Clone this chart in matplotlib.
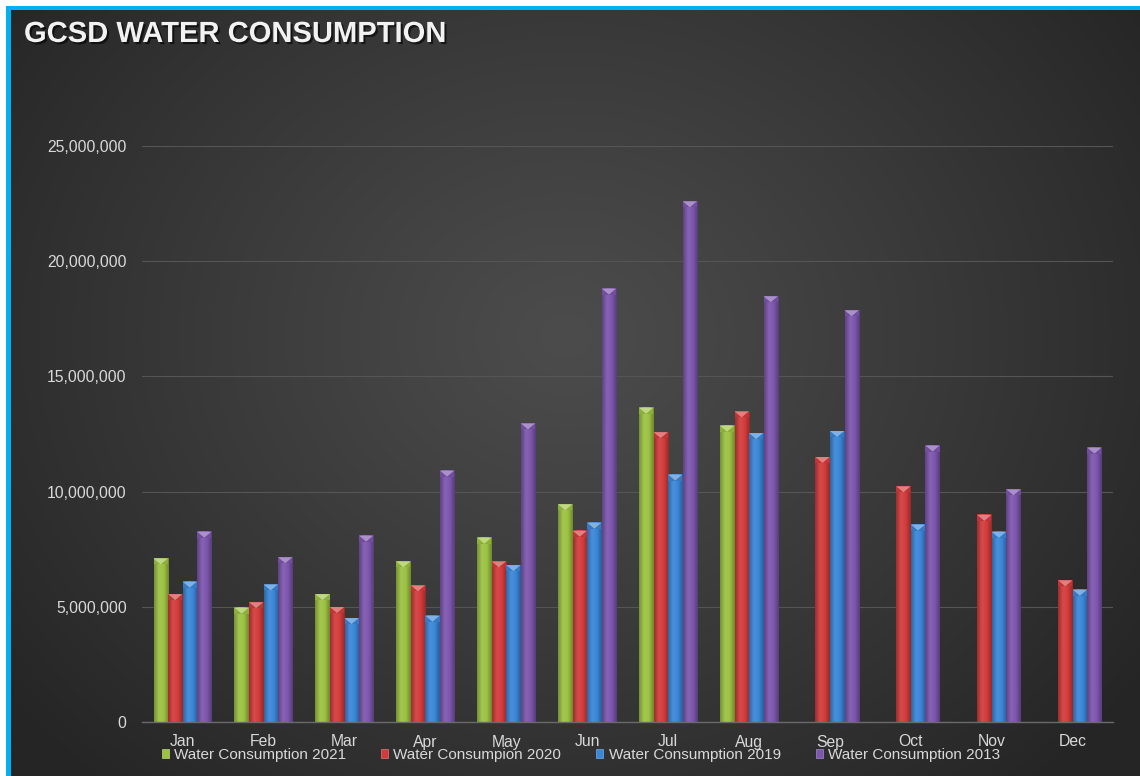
import numpy as np
import matplotlib
matplotlib.use("Agg")
import matplotlib.pyplot as plt
from matplotlib.patches import Rectangle, Polygon, Patch
from matplotlib.colors import to_rgb, LinearSegmentedColormap
import matplotlib.patheffects as pe

plt.rcParams['font.family'] = ['Liberation Sans', 'DejaVu Sans']

# ---------------- data ----------------
months = ['Jan', 'Feb', 'Mar', 'Apr', 'May', 'Jun', 'Jul', 'Aug', 'Sep', 'Oct', 'Nov', 'Dec']
wc_2021 = [7100000, 4960000, 5550000, 6970000, 8000000, 9450000, 13640000, 12860000,
           np.nan, np.nan, np.nan, np.nan]
wc_2020 = [5550000, 5200000, 4990000, 5930000, 6970000, 8300000, 12580000, 13480000,
           11500000, 10230000, 8990000, 6150000]
wc_2019 = [6090000, 5970000, 4510000, 4610000, 6810000, 8650000, 10740000, 12540000,
           12630000, 8570000, 8250000, 5740000]
wc_2013 = [8260000, 7150000, 8090000, 10910000, 12960000, 18810000, 22600000, 18480000,
           17870000, 12000000, 10100000, 11910000]
series_labels = ['Water Consumption 2021', 'Water Consumpion 2020',
                 'Water Consumption 2019', 'Water Consumption 2013']
series_values = [wc_2021, wc_2020, wc_2019, wc_2013]
series_colors = ['#9cc243', '#d33b3b', '#3a87d8', '#7d56ae']
y_ticks = [0, 5000000, 10000000, 15000000, 20000000, 25000000]
title = 'GCSD WATER CONSUMPTION'

W, H = 1140, 776
fig = plt.figure(figsize=(W / 100, H / 100), dpi=100)
fig.patch.set_facecolor('white')

# ---------------- background ----------------
bg = fig.add_axes([0, 0, 1, 1], zorder=-10)
bg.set_xlim(0, W)
bg.set_ylim(H, 0)
bg.axis('off')
yy, xx = np.mgrid[0:H, 0:W]
r = np.sqrt(((xx - 560) / 1.0) ** 2 + ((yy - 330) / 0.85) ** 2)
t = np.clip(r / 720.0, 0, 1) ** 1.1
inner = np.array([0x4c, 0x4c, 0x4c]) / 255
outer = np.array([0x25, 0x25, 0x25]) / 255
img = inner[None, None, :] * (1 - t[..., None]) + outer[None, None, :] * t[..., None]
bg.add_patch(Rectangle((6, 6), W, H, facecolor='#00b0f0', edgecolor='none', zorder=0))
bg.imshow(img, extent=(11, W, H, 10), zorder=1, aspect='auto')
bg.set_xlim(0, W)
bg.set_ylim(H, 0)

# ---------------- main axes ----------------
ax = fig.add_axes([142 / W, 1 - 722 / H, (1113 - 142) / W, (722 - 146) / H])
ax.set_facecolor('none')
x = np.arange(len(months))
bw = 0.18
offsets = (np.arange(4) - 1.5) * bw
ax.set_xlim(-0.5, len(months) - 0.5)
ax.set_ylim(0, 25000000)

# pixel -> data scale for bevel height
ax_h_px = 722 - 146
units_per_px = 25000000 / ax_h_px
bevel = 6 * units_per_px


def shade(c, f):
    c = np.array(to_rgb(c))
    if f >= 0:
        return tuple(c + (1 - c) * f)
    return tuple(c * (1 + f))


for vals, col, off, lab in zip(series_values, series_colors, offsets, series_labels):
    cmap = LinearSegmentedColormap.from_list(
        'g', [shade(col, -0.25), shade(col, 0.08), col, shade(col, -0.3)])
    grad = np.linspace(0, 1, 64)[None, :]
    bars = ax.bar(x + off, vals, width=bw * 0.97, color=col, zorder=3, linewidth=0)
    for b in bars:
        h = b.get_height()
        if not np.isfinite(h) or h <= 0:
            continue
        x0 = b.get_x()
        x1 = x0 + b.get_width()
        ax.imshow(grad, cmap=cmap, extent=(x0, x1, 0, h), aspect='auto', zorder=4,
                  interpolation='bicubic')
        # top bevel
        ax.add_patch(Polygon([(x0, h), (x1, h), (x1, h - bevel), (x0, h - bevel)],
                             closed=True, facecolor=shade(col, -0.1), edgecolor='none', zorder=5))
        ax.add_patch(Polygon([(x0, h), (x1, h), ((x0 + x1) / 2, h - bevel)],
                             closed=True, facecolor=shade(col, 0.35), edgecolor='none', zorder=6))

ax.set_xlim(-0.5, len(months) - 0.5)
ax.set_ylim(0, 25000000)

ax.set_yticks(y_ticks)
ax.set_yticklabels([f'{v:,}' for v in y_ticks])
ax.set_xticks(x)
ax.set_xticklabels(months)
ax.tick_params(axis='both', length=0, labelsize=11.3, colors='#d9d9d9')
ax.tick_params(axis='y', pad=11)
ax.tick_params(axis='x', pad=9)
ax.grid(axis='y', color='#555555', linewidth=0.8, zorder=1)
ax.set_axisbelow(True)
for s in ['top', 'right', 'left']:
    ax.spines[s].set_visible(False)
ax.spines['bottom'].set_color('#6a6a6a')
ax.spines['bottom'].set_linewidth(1.0)
ax.spines['bottom'].set_zorder(7)

# ---------------- legend ----------------
handles = [Patch(facecolor=c, edgecolor=shade(c, 0.3), linewidth=0.5) for c in series_colors]
leg = fig.legend(handles, series_labels, loc='center', bbox_to_anchor=(581 / W, 1 - 755 / H),
                 ncol=4, frameon=False, fontsize=11, labelcolor='#d9d9d9',
                 handlelength=0.45, handleheight=0.45, handletextpad=0.35,
                 columnspacing=2.3, borderpad=0, borderaxespad=0)

# ---------------- title ----------------
fig.text(24 / W, 1 - 42 / H, title, fontsize=21, fontweight='bold', color='#f2f2f2',
         ha='left', va='baseline',
         path_effects=[pe.withSimplePatchShadow(offset=(1.5, -1.5), shadow_rgbFace='black', alpha=0.6)])

fig.savefig('out.png', dpi=100)
